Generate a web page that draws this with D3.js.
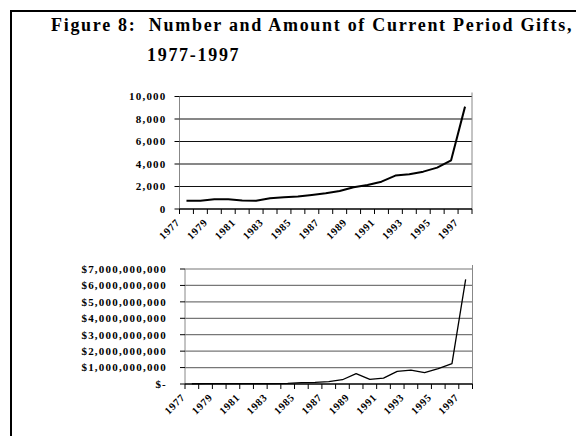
<!DOCTYPE html>
<html>
<head>
<meta charset="utf-8">
<script src="https://cdn.jsdelivr.net/npm/d3@7"></script>
<style>
  html, body { margin: 0; padding: 0; background: #fff; }
  svg { display: block; }
  text { font-family: "Liberation Serif", "Times New Roman", serif; font-weight: bold; fill: #000; }
</style>
</head>
<body>
<script>
// years shown on both charts
const years = ["1977", "1978", "1979", "1980", "1981", "1982", "1983", "1984", "1985", "1986",
  "1987", "1988", "1989", "1990", "1991", "1992", "1993", "1994", "1995", "1996", "1997"];

// number of current period gifts
const giftCounts = [740, 740, 860, 860, 750, 740, 950, 1040, 1120, 1250,
  1400, 1600, 1930, 2130, 2430, 2970, 3080, 3320, 3680, 4330, 9100];

// amount of current period gifts ($)
const giftAmounts = [15e6, 20e6, 20e6, 25e6, 20e6, 20e6, 25e6, 40e6, 80e6, 100e6,
  140e6, 260e6, 630e6, 280e6, 360e6, 770e6, 850e6, 690e6, 930e6, 1240e6, 6370e6];

const countTicks = [0, 2000, 4000, 6000, 8000, 10000];
const amountTicks = [0, 1e9, 2e9, 3e9, 4e9, 5e9, 6e9, 7e9];

const width = 576, height = 436;

const svg = d3.select("body").append("svg")
  .attr("width", width)
  .attr("height", height);

svg.append("rect").attr("width", width).attr("height", height).attr("fill", "#fff");

// page frame (top and left edges)
svg.append("path")
  .attr("d", "M11,436V11H576")
  .attr("fill", "none")
  .attr("stroke", "#000")
  .attr("stroke-width", 2);

// title
const title = svg.append("text")
  .attr("font-size", 18)
  .attr("letter-spacing", 1.7)
  .attr("xml:space", "preserve")
  .style("white-space", "pre");
title.append("tspan").attr("x", 51).attr("y", 31).text("Figure 8:  Number and Amount of Current Period Gifts,");
title.append("tspan").attr("x", 147).attr("y", 61).text("1977-1997");

const fmtCount = d3.format(",");
const fmtAmount = d => d === 0 ? "$-" : "$" + d3.format(",")(d);

function drawChart(cfg) {
  const g = svg.append("g");

  const x = d3.scaleBand()
    .domain(years)
    .range([cfg.left, cfg.right]);

  const y = d3.scaleLinear()
    .domain([0, cfg.max])
    .range([cfg.bottom, cfg.top]);

  // gridlines
  g.append("g")
    .selectAll("line")
    .data(cfg.ticks.slice(1))
    .join("line")
    .attr("x1", cfg.left).attr("x2", cfg.right)
    .attr("y1", d => y(d)).attr("y2", d => y(d))
    .attr("stroke", cfg.gridColor)
    .attr("stroke-width", 1.2);

  // left and right plot edges
  g.append("line")
    .attr("x1", cfg.left).attr("x2", cfg.left)
    .attr("y1", cfg.bottom).attr("y2", cfg.top)
    .attr("stroke", "#888");
  g.append("line")
    .attr("x1", cfg.right).attr("x2", cfg.right)
    .attr("y1", cfg.bottom).attr("y2", cfg.top - 4)
    .attr("stroke", "#888");

  // y axis ticks and labels
  const yAxis = g.append("g");
  yAxis.selectAll("line")
    .data(cfg.ticks)
    .join("line")
    .attr("x1", cfg.left - 5).attr("x2", cfg.left)
    .attr("y1", d => y(d)).attr("y2", d => y(d))
    .attr("stroke", "#000");
  yAxis.selectAll("text")
    .data(cfg.ticks)
    .join("text")
    .attr("x", cfg.left - cfg.labelGap)
    .attr("y", d => y(d))
    .attr("dy", "0.35em")
    .attr("text-anchor", "end")
    .attr("font-size", 11)
    .attr("letter-spacing", 1.2)
    .text(cfg.format);

  // x axis with ticks between categories
  const xAxis = g.append("g");
  xAxis.append("line")
    .attr("x1", cfg.left).attr("x2", cfg.right)
    .attr("y1", cfg.bottom).attr("y2", cfg.bottom)
    .attr("stroke", "#000")
    .attr("stroke-width", 1.5);
  const bounds = years.map(d => x(d)).concat([cfg.right]);
  xAxis.selectAll("line.tick")
    .data(bounds)
    .join("line")
    .attr("class", "tick")
    .attr("x1", d => d).attr("x2", d => d)
    .attr("y1", cfg.bottom).attr("y2", cfg.bottom + 5)
    .attr("stroke", "#000");
  xAxis.selectAll("text")
    .data(years.filter((d, i) => i % 2 === 0))
    .join("text")
    .attr("transform", d => `translate(${x(d) + x.bandwidth() / 2 - 6},${cfg.bottom + 14}) rotate(-45)`)
    .attr("text-anchor", "end")
    .attr("font-size", 10.5)
    .attr("letter-spacing", 0.8)
    .text(d => d);

  // series line
  const line = d3.line()
    .x((d, i) => x(years[i]) + x.bandwidth() / 2)
    .y(d => y(d));
  g.append("path")
    .datum(cfg.values)
    .attr("d", line)
    .attr("fill", "none")
    .attr("stroke", "#000")
    .attr("stroke-width", cfg.lineWidth)
    .attr("stroke-linejoin", "round");
}

drawChart({
  values: giftCounts, ticks: countTicks, max: 10000, format: fmtCount,
  left: 179.5, right: 472, top: 96.5, bottom: 209,
  labelGap: 13, gridColor: "#111", lineWidth: 2
});

drawChart({
  values: giftAmounts, ticks: amountTicks, max: 7e9, format: fmtAmount,
  left: 185, right: 472.5, top: 269, bottom: 384,
  labelGap: 18, gridColor: "#777", lineWidth: 1.3
});
</script>
</body>
</html>
